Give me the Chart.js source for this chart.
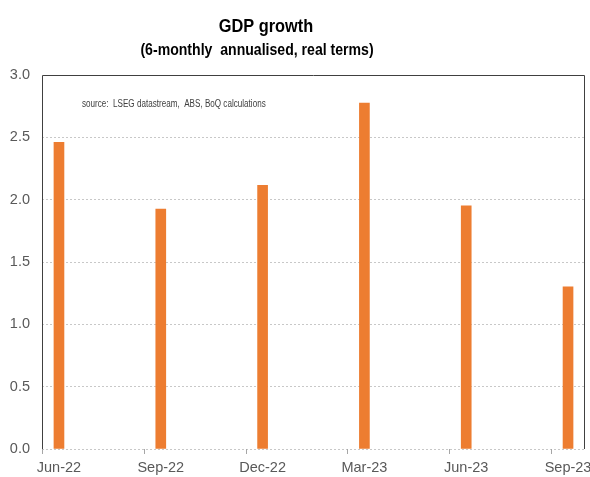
<!DOCTYPE html>
<html>
<head>
<meta charset="utf-8">
<script src="https://cdn.jsdelivr.net/npm/chart.js@4.4.1/dist/chart.umd.min.js"></script>
<style>
  html, body { margin: 0; padding: 0; background: #fff; }
  #wrap { width: 590px; height: 477px; }
</style>
</head>
<body>
<div id="wrap"><canvas id="gdp-chart" width="590" height="477"></canvas></div>
<script>
// monthly slots on the axis (Excel date axis, base unit = month)
const months = ['Jun-22', 'Jul-22', 'Aug-22', 'Sep-22', 'Oct-22', 'Nov-22', 'Dec-22', 'Jan-23',
    'Feb-23', 'Mar-23', 'Apr-23', 'May-23', 'Jun-23', 'Jul-23', 'Aug-23', 'Sep-23'];
// quarters that have a value
const quarters = ['Jun-22', 'Sep-22', 'Dec-22', 'Mar-23', 'Jun-23', 'Sep-23'];
const growth = [2.46, 1.925, 2.115, 2.775, 1.95, 1.30];
const yTicks = [0, 0.5, 1.0, 1.5, 2.0, 2.5, 3.0];

const FONT = "'Liberation Sans', Arial, sans-serif";
const frameColor = '#404040';

// narrow-looking text: squeeze horizontally around the anchor point
function narrowText(ctx, text, x, y, squeeze) {
    ctx.save();
    ctx.translate(x, y);
    ctx.scale(squeeze, 1);
    ctx.fillText(text, 0, 0);
    ctx.restore();
}

// titles, source note, the chart frame and quarter tick marks
const decorations = {
    id: 'decorations',
    afterDraw(chart) {
        const { ctx, chartArea: a } = chart;
        const xScale = chart.scales.x;
        ctx.save();
        ctx.fillStyle = '#000';
        ctx.textAlign = 'center';
        ctx.textBaseline = 'alphabetic';
        ctx.font = 'bold 19px ' + FONT;
        narrowText(ctx, 'GDP growth', 266, 32, 0.86);
        ctx.font = 'bold 16px ' + FONT;
        narrowText(ctx, '(6-monthly  annualised, real terms)', 257, 55, 0.88);

        ctx.fillStyle = '#404040';
        ctx.textAlign = 'left';
        ctx.textBaseline = 'middle';
        ctx.font = '10px ' + FONT;
        narrowText(ctx, 'source:  LSEG datastream,  ABS, BoQ calculations', 82, 104, 0.81);

        // tick marks at the start of each labelled quarter month
        const slot = xScale.getPixelForValue(1) - xScale.getPixelForValue(0);
        ctx.strokeStyle = '#a6a6a6';
        ctx.lineWidth = 1;
        ctx.beginPath();
        quarters.forEach((q) => {
            const x = Math.round(xScale.getPixelForValue(months.indexOf(q)) - slot / 2) + 0.5;
            ctx.moveTo(x, a.bottom);
            ctx.lineTo(x, a.bottom + 5);
        });
        ctx.stroke();

        // frame: left, top, right
        ctx.strokeStyle = frameColor;
        ctx.beginPath();
        ctx.moveTo(a.left + 0.5, a.bottom);
        ctx.lineTo(a.left + 0.5, a.top + 0.5);
        ctx.lineTo(a.right - 0.5, a.top + 0.5);
        ctx.lineTo(a.right - 0.5, a.bottom);
        ctx.stroke();
        ctx.restore();
    }
};

new Chart(document.getElementById('gdp-chart'), {
    type: 'bar',
    data: {
        labels: months,
        datasets: [{
            label: 'GDP growth',
            data: quarters.map((q, i) => ({ x: q, y: growth[i] })),
            backgroundColor: '#ED7D31',
            barThickness: 10
        }]
    },
    options: {
        responsive: false,
        devicePixelRatio: 1,
        animation: false,
        layout: { padding: { top: 75, right: 5, left: 0, bottom: 0 } },
        plugins: {
            legend: { display: false },
            tooltip: { enabled: false }
        },
        scales: {
            x: {
                offset: true,
                afterFit: (scale) => {
                    scale.height = 28;
                    scale.paddingLeft = 0;
                    scale.paddingRight = 0;
                },
                grid: { display: false, drawTicks: true, tickLength: 5 },
                border: { display: false },
                ticks: {
                    autoSkip: false,
                    maxRotation: 0,
                    padding: 5,
                    color: '#595959',
                    font: { family: FONT, size: 14.5 },
                    callback: (v, i) => (quarters.includes(months[i]) ? months[i] : '')
                }
            },
            y: {
                min: 0,
                max: 3,
                afterFit: (scale) => { scale.width = 42; },
                afterBuildTicks: (scale) => { scale.ticks = yTicks.map(v => ({ value: v })); },
                grid: {
                    color: (c) => (c.tick && c.tick.value === 3 ? 'rgba(0,0,0,0)' : '#c8c8c8'),
                    drawTicks: false
                },
                border: { display: false, dash: [2, 2] },
                ticks: {
                    padding: 12,
                    color: '#595959',
                    font: { family: FONT, size: 14.5 },
                    callback: (v) => v.toFixed(1)
                }
            }
        }
    },
    plugins: [decorations]
});
</script>
</body>
</html>
